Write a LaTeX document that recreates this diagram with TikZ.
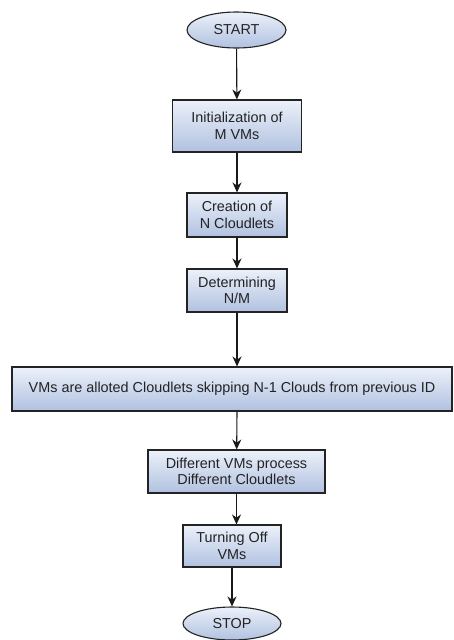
\documentclass[tikz,border=0pt]{standalone}
\usepackage{fontspec}
\setmainfont{Liberation Sans}
\usepackage{tikz}
\usetikzlibrary{arrows.meta,shapes.geometric}
\definecolor{boxtop}{RGB}{236,241,250}
\definecolor{boxbot}{RGB}{176,193,224}
\definecolor{edgegray}{RGB}{35,35,35}
\definecolor{txtgray}{RGB}{35,35,35}

\tikzset{
  stepbox/.style={rectangle,draw=edgegray,line width=1.1pt,top color=boxtop,bottom color=boxbot,text=txtgray,align=center,inner sep=0pt},
  termbox/.style={ellipse,draw=edgegray,line width=1.1pt,top color=boxtop,bottom color=boxbot,text=txtgray,inner sep=0pt},
  flow/.style={-{Stealth[length=10pt,width=9pt]},draw=black!90,line width=1.1pt}
}

\begin{document}
\begin{tikzpicture}[x=1pt,y=-1pt,font=\fontsize{14.4}{16.5}\selectfont]
\useasboundingbox[fill=white] (0,0) rectangle (454,640);
\node[termbox,minimum width=99pt,minimum height=36pt] (start) at (236.5,30) {START};
\node[stepbox,minimum width=129pt,minimum height=52pt] (init) at (237,126) {Initialization of\\M VMs};
\node[stepbox,minimum width=100pt,minimum height=44pt] (create) at (237,215) {Creation of\\N Cloudlets};
\node[stepbox,minimum width=100pt,minimum height=43pt] (det) at (237,290.5) {Determining\\N/M};
\node[stepbox,minimum width=440pt,minimum height=44pt] (allot) at (232,389) {VMs are alloted Cloudlets skipping N-1 Clouds from previous ID};
\node[stepbox,minimum width=177pt,minimum height=43pt] (proc) at (236.5,471.5) {Different VMs process\\Different Cloudlets};
\node[stepbox,minimum width=98pt,minimum height=42pt] (off) at (232,546) {Turning Off\\VMs};
\node[termbox,minimum width=98pt,minimum height=33pt] (stop) at (232,623.5) {STOP};

% vertical flow
\draw[flow] (start) -- (init);
\draw[flow] (init) -- (create);
\draw[flow] (create) -- (det);
\draw[flow] (det) -- (det |- allot.north);
\draw[flow] (det |- allot.south) -- (proc);
\draw[flow] (proc) -- (proc |- off.north);
\draw[flow] (off) -- (stop);
\end{tikzpicture}
\end{document}
